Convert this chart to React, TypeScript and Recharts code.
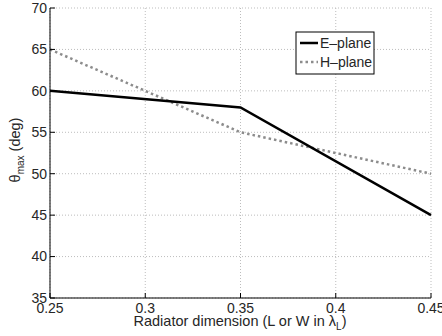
import { CartesianGrid, Line, LineChart, XAxis, YAxis } from "recharts";

const xValues = [0.25, 0.35, 0.45];
const ePlane = [60, 58, 45];
const hPlane = [65, 55, 50];
const xTicks = [0.25, 0.3, 0.35, 0.4, 0.45];
const yTicks = [35, 40, 45, 50, 55, 60, 65, 70];
const seriesNames = ["E–plane", "H–plane"];

const data = xValues.map((x, i) => ({ x, e: ePlane[i], h: hPlane[i] }));

const FONT = "'Liberation Sans', Arial, Helvetica, sans-serif";
const TEXT = "#262626";
const H_COLOR = "#8c8c8c";

function BottomTick(props: any) {
  const { x, y, payload } = props;
  return (
    <g>
      <line x1={x} y1={y} x2={x} y2={y - 5} stroke="#000" />
      <text x={x} y={y + 15} textAnchor="middle" fontSize={14} fill={TEXT} fontFamily={FONT}>
        {payload.value}
      </text>
    </g>
  );
}

function TopTick(props: any) {
  const { x, y } = props;
  return <line x1={x} y1={y} x2={x} y2={y + 5} stroke="#000" />;
}

function LeftTick(props: any) {
  const { x, y, payload } = props;
  return (
    <g>
      <line x1={x} y1={y} x2={x + 5} y2={y} stroke="#000" />
      <text x={x - 3} y={y} dy="0.35em" textAnchor="end" fontSize={14} fill={TEXT} fontFamily={FONT}>
        {payload.value}
      </text>
    </g>
  );
}

function RightTick(props: any) {
  const { x, y } = props;
  return <line x1={x} y1={y} x2={x - 5} y2={y} stroke="#000" />;
}

export default function App() {
  return (
    <div style={{ position: "absolute", left: 0, top: 0, width: 442, height: 336, background: "#fff" }}>
      <LineChart width={442} height={336} data={data} margin={{ top: 8, right: 11, left: 0, bottom: 0 }}>
        <CartesianGrid stroke="#bdbdbd" strokeDasharray="1 2" horizontalValues={yTicks} verticalValues={xTicks} />
        <XAxis
          dataKey="x"
          type="number"
          domain={[0.25, 0.45]}
          ticks={xTicks}
          height={38}
          tickSize={0}
          tickMargin={0}
          tickLine={false}
          axisLine={{ stroke: "#000" }}
          tick={<BottomTick />}
          interval={0}
        />
        <XAxis
          xAxisId="top"
          dataKey="x"
          type="number"
          orientation="top"
          domain={[0.25, 0.45]}
          ticks={xTicks}
          height={0}
          tickSize={0}
          tickMargin={0}
          tickLine={false}
          axisLine={{ stroke: "#000" }}
          tick={<TopTick />}
          interval={0}
        />
        <YAxis
          type="number"
          domain={[35, 70]}
          ticks={yTicks}
          width={50}
          tickSize={0}
          tickMargin={0}
          tickLine={false}
          axisLine={{ stroke: "#000" }}
          tick={<LeftTick />}
          interval={0}
        />
        <YAxis
          yAxisId="right"
          type="number"
          orientation="right"
          domain={[35, 70]}
          ticks={yTicks}
          width={0}
          tickSize={0}
          tickMargin={0}
          tickLine={false}
          axisLine={{ stroke: "#000" }}
          tick={<RightTick />}
          interval={0}
        />
        <Line
          dataKey="h"
          name={seriesNames[1]}
          type="linear"
          stroke={H_COLOR}
          strokeWidth={2.5}
          strokeDasharray="2.5 3"
          dot={false}
          activeDot={false}
          isAnimationActive={false}
        />
        <Line
          dataKey="e"
          name={seriesNames[0]}
          type="linear"
          stroke="#000"
          strokeWidth={2.5}
          dot={false}
          activeDot={false}
          isAnimationActive={false}
        />
        {/* legend box, drawn by hand like MATLAB's */}
        <g>
          <rect x={296} y={32} width={78} height={42} fill="#fff" stroke="#000" strokeWidth={1} />
          <line x1={300} y1={43} x2={318} y2={43} stroke="#000" strokeWidth={2.5} />
          <text x={320} y={43} dy="0.35em" fontSize={14} fill={TEXT} fontFamily={FONT}>
            {seriesNames[0]}
          </text>
          <line x1={300} y1={62} x2={318} y2={62} stroke={H_COLOR} strokeWidth={2.5} strokeDasharray="2.5 3" />
          <text x={320} y={62} dy="0.35em" fontSize={14} fill={TEXT} fontFamily={FONT}>
            {seriesNames[1]}
          </text>
        </g>
        <text x={240} y={326} textAnchor="middle" fontSize={14.5} fill={TEXT} fontFamily={FONT}>
          Radiator dimension (L or W in λ
          <tspan fontSize={10} dy={4}>L</tspan>
          <tspan dy={-4}>)</tspan>
        </text>
        <text
          transform="translate(20,150) rotate(-90)"
          textAnchor="middle"
          fontSize={14.5}
          fill={TEXT}
          fontFamily={FONT}
        >
          θ
          <tspan fontSize={10} dy={4}>max</tspan>
          <tspan dy={-4}> (deg)</tspan>
        </text>
      </LineChart>
    </div>
  );
}
